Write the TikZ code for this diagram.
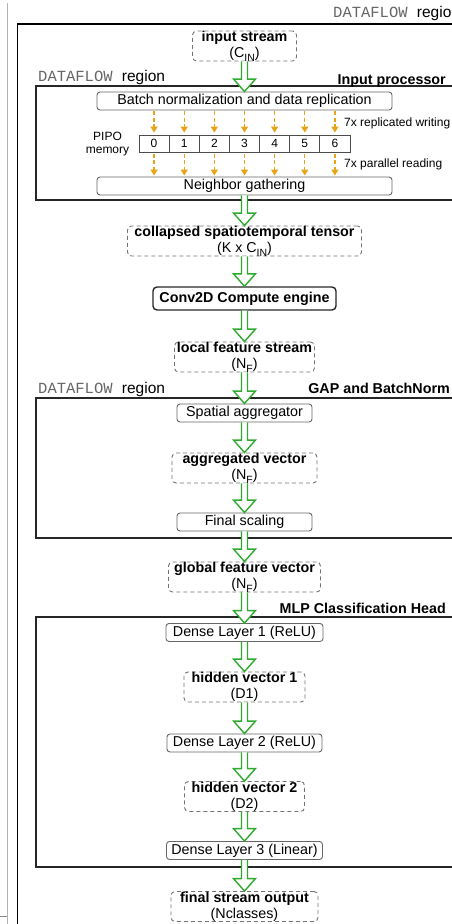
\documentclass[tikz,border=0pt]{standalone}
\usepackage{fontspec}
\setmainfont{Liberation Sans}
\newfontfamily\monofont{Liberation Mono}
\usetikzlibrary{arrows.meta,calc}
\definecolor{garr}{RGB}{46,170,46}
\definecolor{oarr}{RGB}{232,163,23}
\newcommand{\sub}[1]{\smash{\raisebox{-3.5pt}{\fontsize{10.5}{10.5}\selectfont #1}}}
\newcommand{\fsmain}{\fontsize{14.3}{16}\selectfont}
\newcommand{\fssmall}{\fontsize{12}{12.8}\selectfont}
\newcommand{\fsregion}{\fontsize{15.5}{16}\selectfont}
\newcommand{\dflabel}{{\monofont\color{black!60}DATAFLOW }region}
\newcommand{\blockarr}[2]{%
  \path[fill=white] let \p1=(#1.south), \p2=(#2.north) in
    (\x1-3pt,\y1) -- (\x1-3pt,\y2+12.5pt) -- (\x1-11pt,\y2+12.5pt) -- (\x1,\y2)
    -- (\x1+11pt,\y2+12.5pt) -- (\x1+3pt,\y2+12.5pt) -- (\x1+3pt,\y1) -- cycle;
  \draw[garrow] let \p1=(#1.south), \p2=(#2.north) in
    (\x1-3pt,\y1) -- (\x1-3pt,\y2+12.5pt) -- (\x1-11pt,\y2+12.5pt) -- (\x1,\y2)
    -- (\x1+11pt,\y2+12.5pt) -- (\x1+3pt,\y2+12.5pt) -- (\x1+3pt,\y1);}
\tikzset{
  proc/.style={draw=black!60, line width=0.9pt, rounded corners=3pt, minimum height=18pt, inner sep=0pt, font=\fsmain},
  engine/.style={draw=black!85, line width=1.4pt, rounded corners=4pt, minimum height=23pt, inner sep=0pt, font=\fsmain\bfseries},
  data/.style={draw=black!55, line width=0.9pt, dash pattern=on 4pt off 3pt, rounded corners=4pt, minimum height=30pt, inner sep=0pt, align=center, font=\fsmain},
  cell/.style={draw=black!70, line width=0.8pt, minimum width=30.14pt, minimum height=17pt, inner sep=0pt, font=\fssmall},
  region/.style={draw=black!85, line width=1.3pt},
  outer/.style={draw=black, line width=1.7pt},
  rlabel/.style={inner sep=0pt, font=\fsregion},
  tlabel/.style={inner sep=0pt, font=\fsmain\bfseries, anchor=base east},
  slabel/.style={inner sep=0pt, font=\fssmall},
  oarrow/.style={draw=oarr, line width=1.4pt, dash pattern=on 4pt off 2.5pt, -{Triangle[length=6pt,width=7pt]}},
  garrow/.style={draw=garr, line width=1.4pt, line join=miter}
}
\begin{document}
\begin{tikzpicture}[x=1pt,y=-1pt]
\useasboundingbox (0,0) rectangle (452,924);
\clip (0,0) rectangle (452,924);
% side frame
\draw[black!30, line width=0.8pt] (7,3) -- (7,924);
\draw[black!45, line width=1.2pt] (0,916.5) -- (7.4,916.5);
% outer region
\draw[outer] (17.5,24) rectangle (480,960);
\node[rlabel, anchor=base west] (toplab) at (333,17) {\dflabel};
% region boxes
\draw[region] (36,86) rectangle (480,200);
\draw[region] (36,398) rectangle (480,538);
\draw[region] (36,617) rectangle (480,867);
\node[rlabel, anchor=base west] (lab1) at (38,81) {\dflabel};
\node[tlabel] (lab1r) at (446,84) {Input processor};
\node[rlabel, anchor=base west] (lab2) at (38,393) {\dflabel};
\node[tlabel] (lab2r) at (450,393) {GAP and BatchNorm};
\node[tlabel] (lab3r) at (446,613) {MLP Classification Head};
% nodes
\node[data, minimum width=104pt] (instream) at (244.5,46) {\textbf{input stream}\\(C\sub{IN})};
\node[proc, minimum width=295pt] (batch) at (244.5,101) {Batch normalization and data replication};
\foreach \i in {0,...,6}{
  \node[cell] (m\i) at ({139+30.14*(\i+0.5)},143.5) {\i};
}
\node[slabel, align=center] (pipo) at (107.5,144) {PIPO\\memory};
\node[slabel, anchor=base west] (wlab) at (344,126.6) {7x replicated writing};
\node[slabel, anchor=base west] (rlab) at (344,167.6) {7x parallel reading};
\node[proc, minimum width=295pt] (neigh) at (244.5,186) {Neighbor gathering};
\node[data, minimum width=234pt] (coll) at (244.5,241) {\textbf{collapsed spatiotemporal tensor}\\(K x C\sub{IN})};
\node[engine, minimum width=183pt] (conv) at (244.5,298.5) {Conv2D Compute engine};
\node[data, minimum width=140pt] (local) at (244.5,357) {\textbf{local feature stream}\\(N\sub{F})};
\node[proc, minimum width=135pt] (spat) at (244.5,413) {Spatial aggregator};
\node[data, minimum width=145pt] (agg) at (244.5,468) {\textbf{aggregated vector}\\(N\sub{F})};
\node[proc, minimum width=135pt] (fscale) at (244.5,522) {Final scaling};
\node[data, minimum width=152pt] (glob) at (244.5,577) {\textbf{global feature vector}\\(N\sub{F})};
\node[proc, minimum width=157pt] (d1) at (244.5,632.5) {Dense Layer 1 (ReLU)};
\node[data, minimum width=121pt] (h1) at (244.5,687) {\textbf{hidden vector 1}\\(D1)};
\node[proc, minimum width=155pt] (d2) at (244.5,743) {Dense Layer 2 (ReLU)};
\node[data, minimum width=120pt] (h2) at (244.5,796.5) {\textbf{hidden vector 2}\\(D2)};
\node[proc, minimum width=156pt] (d3) at (244.5,850.5) {Dense Layer 3 (Linear)};
\node[data, minimum width=147pt] (fout) at (244.5,906.5) {\textbf{final stream output}\\(Nclasses)};
% orange arrows
\foreach \i in {0,...,6}{
  \draw[oarrow, shorten <=1pt, shorten >=2pt] (m\i.north |- batch.south) -- (m\i.north);
  \draw[oarrow, shorten <=1.5pt, shorten >=1pt] (m\i.south) -- (m\i.south |- neigh.north);
}
% green arrows
\blockarr{instream}{batch}
\blockarr{neigh}{coll}
\blockarr{coll}{conv}
\blockarr{conv}{local}
\blockarr{local}{spat}
\blockarr{spat}{agg}
\blockarr{agg}{fscale}
\blockarr{fscale}{glob}
\blockarr{glob}{d1}
\blockarr{d1}{h1}
\blockarr{h1}{d2}
\blockarr{d2}{h2}
\blockarr{h2}{d3}
\blockarr{d3}{fout}
\end{tikzpicture}
\end{document}
